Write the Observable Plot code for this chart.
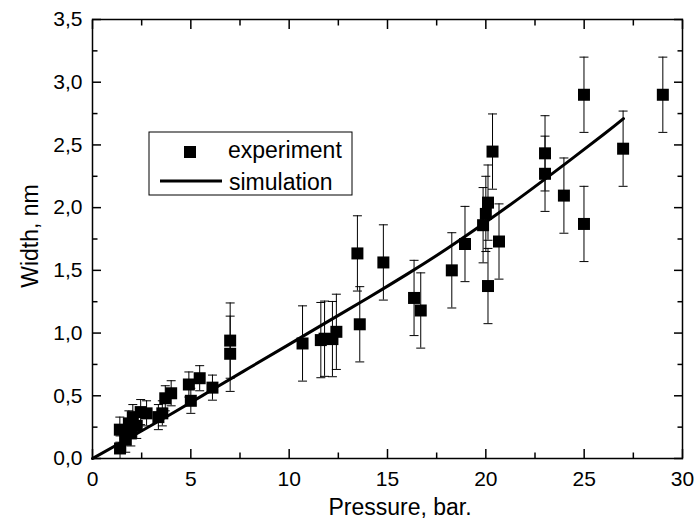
<!DOCTYPE html>
<html>
<head>
<meta charset="utf-8">
<script src="https://cdn.jsdelivr.net/npm/d3@7"></script>
<script src="https://cdn.jsdelivr.net/npm/@observablehq/plot@0.6"></script>
<style>
  body { margin: 0; background: #fff; }
  #chart svg { display: block; }
</style>
</head>
<body>
<div id="chart"></div>
<script>
// ---- data ----
const pressure = [1.39, 1.40, 1.69, 1.85, 1.95, 2.05, 2.25, 2.45, 2.75, 3.35, 3.55, 3.70, 4.00, 4.90, 5.00, 5.45, 6.10, 7.00, 7.00,
  10.68, 11.61, 11.80, 12.20, 12.40, 13.47, 13.59, 14.79, 16.35, 16.69, 18.27, 18.94, 19.86, 20.00, 20.11, 20.11, 20.34, 20.67,
  23.01, 23.01, 23.97, 24.99, 24.99, 26.98, 29.00];
const widthNm = [0.23, 0.08, 0.15, 0.28, 0.20, 0.33, 0.26, 0.37, 0.36, 0.33, 0.36, 0.48, 0.52, 0.59, 0.46, 0.64, 0.565, 0.835, 0.94,
  0.917, 0.944, 0.955, 0.952, 1.01, 1.635, 1.07, 1.563, 1.28, 1.18, 1.50, 1.71, 1.86, 1.95, 2.04, 1.375, 2.447, 1.73,
  2.433, 2.27, 2.096, 2.90, 1.87, 2.47, 2.90];
const widthErr = [0.1, 0.1, 0.1, 0.1, 0.1, 0.1, 0.1, 0.1, 0.1, 0.1, 0.1, 0.1, 0.1, 0.1, 0.1, 0.1, 0.1, 0.3, 0.3,
  0.3, 0.3, 0.3, 0.3, 0.3, 0.3, 0.3, 0.3, 0.3, 0.3, 0.3, 0.3, 0.3, 0.3, 0.3, 0.3, 0.3, 0.3,
  0.3, 0.3, 0.3, 0.3, 0.3, 0.3, 0.3];
const simPressure = [0, 2, 4, 6, 8, 10, 12, 14, 16, 18, 20, 22, 24, 26, 27];
const simWidth = [0, 0.175, 0.355, 0.54, 0.725, 0.91, 1.095, 1.28, 1.47, 1.67, 1.885, 2.11, 2.345, 2.585, 2.71];

const xMajorTicks = [0, 5, 10, 15, 20, 25, 30];
const xMinorTicks = [2.5, 7.5, 12.5, 17.5, 22.5, 27.5];
const yMajorTicks = [0, 0.5, 1.0, 1.5, 2.0, 2.5, 3.0, 3.5];
const yMinorTicks = [0.25, 0.75, 1.25, 1.75, 2.25, 2.75, 3.25];

const xTitle = "Pressure, bar.";
const yTitle = "Width, nm";
const legendLabels = ["experiment", "simulation"];

// ---- build tables ----
const experiment = pressure.map((p, i) => ({p, w: widthNm[i], e: widthErr[i]}));
const simulation = simPressure.map((p, i) => ({p, w: simWidth[i]}));

const capSymbol = {draw(ctx) { ctx.moveTo(-4.5, 0); ctx.lineTo(4.5, 0); }};
const fmtY = d => d.toFixed(1).replace(".", ",");
const noText = () => "";

function inwardTicks(xt, yt, size) {
  return [
    Plot.axisX({ticks: xt, anchor: "bottom", tickSize: size, dy: -size, tickFormat: noText, label: null, strokeWidth: 1.5}),
    Plot.axisX({ticks: xt, anchor: "top", tickSize: size, dy: size, tickFormat: noText, label: null, strokeWidth: 1.5}),
    Plot.axisY({ticks: yt, anchor: "left", tickSize: size, dx: size, tickFormat: noText, label: null, strokeWidth: 1.5}),
    Plot.axisY({ticks: yt, anchor: "right", tickSize: size, dx: -size, tickFormat: noText, label: null, strokeWidth: 1.5})
  ];
}

const svg = Plot.plot({
  width: 697,
  height: 523,
  marginLeft: 92,
  marginRight: 15,
  marginTop: 19,
  marginBottom: 65,
  style: {fontFamily: "'Liberation Sans', Arial, sans-serif", background: "white", color: "black", overflow: "visible"},
  x: {domain: [0, 30]},
  y: {domain: [0, 3.5]},
  marks: [
    Plot.line(simulation, {x: "p", y: "w", curve: "natural", stroke: "black", strokeWidth: 3}),
    Plot.ruleX(experiment, {x: "p", y1: d => d.w - d.e, y2: d => d.w + d.e, stroke: "black", strokeWidth: 1, clip: true}),
    Plot.dot(experiment, {x: "p", y: d => d.w + d.e, symbol: capSymbol, stroke: "black", strokeWidth: 1, clip: true}),
    Plot.dot(experiment, {x: "p", y: d => d.w - d.e, symbol: capSymbol, stroke: "black", strokeWidth: 1, clip: true}),
    Plot.dot(experiment, {x: "p", y: "w", symbol: "square", r: 6.77, fill: "black", stroke: null}),
    ...inwardTicks(xMajorTicks, yMajorTicks, 9),
    ...inwardTicks(xMinorTicks, yMinorTicks, 5.5),
    Plot.axisX({ticks: xMajorTicks, anchor: "bottom", tickSize: 0, tickPadding: 13, fontSize: 21, label: null, tickFormat: d => String(d)}),
    Plot.axisY({ticks: yMajorTicks, anchor: "left", tickSize: 0, tickPadding: 10, fontSize: 21, label: null, tickFormat: fmtY}),
    Plot.frame({stroke: "black", strokeWidth: 1.5})
  ]
});

const s = d3.select(svg);
// axis titles
s.append("text").attr("x", 400).attr("y", 515).attr("text-anchor", "middle")
  .attr("font-size", 23).attr("fill", "black").text(xTitle);
s.append("text").attr("transform", "translate(38,236) rotate(-90)").attr("text-anchor", "middle")
  .attr("font-size", 23).attr("fill", "black").text(yTitle);

// legend
const lg = s.append("g").attr("text-anchor", "start");
lg.append("rect").attr("x", 149).attr("y", 132).attr("width", 203).attr("height", 63)
  .attr("fill", "white").attr("stroke", "black").attr("stroke-width", 1);
lg.append("rect").attr("x", 184).attr("y", 146).attr("width", 12).attr("height", 12).attr("fill", "black");
lg.append("line").attr("x1", 160).attr("x2", 222).attr("y1", 181).attr("y2", 181)
  .attr("stroke", "black").attr("stroke-width", 3);
lg.append("text").attr("x", 228).attr("y", 158).attr("text-anchor", "start").attr("font-size", 23).attr("fill", "black").text(legendLabels[0]);
lg.append("text").attr("x", 229).attr("y", 190).attr("text-anchor", "start").attr("font-size", 23).attr("fill", "black").text(legendLabels[1]);

document.getElementById("chart").appendChild(svg);
</script>
</body>
</html>
